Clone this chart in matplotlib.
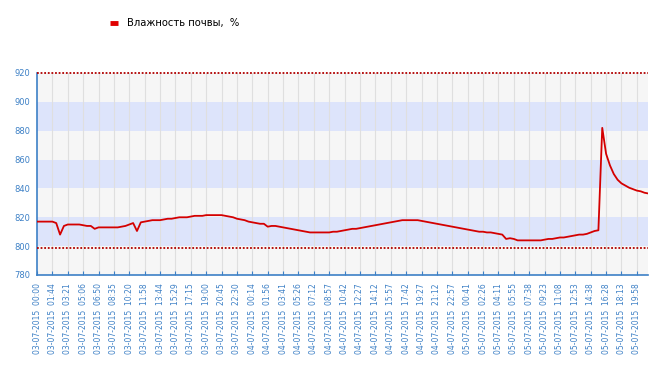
import matplotlib
matplotlib.use('Agg')
import matplotlib.pyplot as plt
from matplotlib.lines import Line2D
import numpy as np

# подписи оси X (каждая 4-я точка)
labels = [
    '03-07-2015 00:00', '03-07-2015 01:44', '03-07-2015 03:21', '03-07-2015 05:06',
    '03-07-2015 06:50', '03-07-2015 08:35', '03-07-2015 10:20', '03-07-2015 11:58',
    '03-07-2015 13:44', '03-07-2015 15:29', '03-07-2015 17:15', '03-07-2015 19:00',
    '03-07-2015 20:45', '03-07-2015 22:30', '04-07-2015 00:14', '04-07-2015 01:56',
    '04-07-2015 03:41', '04-07-2015 05:26', '04-07-2015 07:12', '04-07-2015 08:57',
    '04-07-2015 10:42', '04-07-2015 12:27', '04-07-2015 14:12', '04-07-2015 15:57',
    '04-07-2015 17:42', '04-07-2015 19:27', '04-07-2015 21:12', '04-07-2015 22:57',
    '05-07-2015 00:41', '05-07-2015 02:26', '05-07-2015 04:11', '05-07-2015 05:55',
    '05-07-2015 07:38', '05-07-2015 09:23', '05-07-2015 11:08', '05-07-2015 12:53',
    '05-07-2015 14:38', '05-07-2015 16:28', '05-07-2015 18:13', '05-07-2015 19:58',
]

# влажность почвы, 4 точки на интервал подписи
humidity = [
    817, 817, 817, 817,
    817, 816, 808, 814,
    815, 815, 815, 815,
    814.5, 814, 814, 812,
    813, 813, 813, 813,
    813, 813, 813.5, 814,
    815, 816, 810.5, 816.5,
    817, 817.5, 818, 818,
    818, 818.5, 819, 819,
    819.5, 820, 820, 820,
    820.5, 821, 821, 821,
    821.5, 821.5, 821.5, 821.5,
    821.5, 821, 820.5, 820,
    819, 818.5, 818, 817,
    816.5, 816, 815.5, 815.5,
    813.5, 814, 814, 813.5,
    813, 812.5, 812, 811.5,
    811, 810.5, 810, 809.5,
    809.5, 809.5, 809.5, 809.5,
    809.5, 810, 810, 810.5,
    811, 811.5, 812, 812,
    812.5, 813, 813.5, 814,
    814.5, 815, 815.5, 816,
    816.5, 817, 817.5, 818,
    818, 818, 818, 818,
    817.5, 817, 816.5, 816,
    815.5, 815, 814.5, 814,
    813.5, 813, 812.5, 812,
    811.5, 811, 810.5, 810,
    810, 809.5, 809.5, 809,
    808.5, 808, 805, 805.5,
    805, 804, 804, 804,
    804, 804, 804, 804,
    804.5, 805, 805, 805.5,
    806, 806, 806.5, 807,
    807.5, 808, 808, 808.5,
    809.5, 810.5, 811, 882,
    864, 856, 850, 846,
    843.5, 842, 840.5, 839.5,
    838.5, 838, 837, 836.5,
]

limit_max = 920
limit_min = 799

blue = '#3d80c6'
fig = plt.figure(figsize=(6.7, 3.72), dpi=100)
ax = fig.add_axes([37/670, 1-275/372, 611/670, 202/372])

# полосы фона
for lo in range(780, 920, 20):
    c = '#dde4fb' if ((lo - 780) // 20) % 2 == 1 else '#f6f6f6'
    ax.axhspan(lo, lo + 20, color=c, lw=0, zorder=0)

x = np.arange(len(humidity))
ticks = np.arange(0, len(labels) * 4, 4)
for t in ticks[1:]:
    ax.axvline(t, color='#dfdfdf', lw=0.8, zorder=1)

ax.axhline(limit_max, color='#b00000', lw=1.3, ls=(0, (1, 1)), zorder=3, clip_on=False)
ax.axhline(limit_min, color='#b00000', lw=1.3, ls=(0, (1, 1)), zorder=3)

line, = ax.plot(x, humidity, color='#d40000', lw=1.3, zorder=4)

ax.set_xlim(0, 158.9)
ax.set_ylim(780, 920)
ax.set_yticks(range(780, 921, 20))
ax.set_xticks(ticks)
ax.set_xticklabels([l.replace(' ', '  ') for l in labels], rotation=90,
                   fontsize=5.5, color=blue)
ax.tick_params(axis='y', labelsize=6, labelcolor=blue, length=0, pad=5)
ax.tick_params(axis='x', direction='in', length=3, color=blue, pad=6)

for s in ['top', 'right']:
    ax.spines[s].set_visible(False)
for s in ['left', 'bottom']:
    ax.spines[s].set_color(blue)
    ax.spines[s].set_linewidth(1.2)

handle = Line2D([], [], color='#e00000', lw=3.5, solid_capstyle='butt')
fig.legend([handle], ['Влажность почвы,  %'], loc='center left',
           bbox_to_anchor=(101/670, 1-23/372), frameon=False, fontsize=7.2,
           handlelength=0.8, handletextpad=0.9)

fig.savefig('out.png', dpi=100)
